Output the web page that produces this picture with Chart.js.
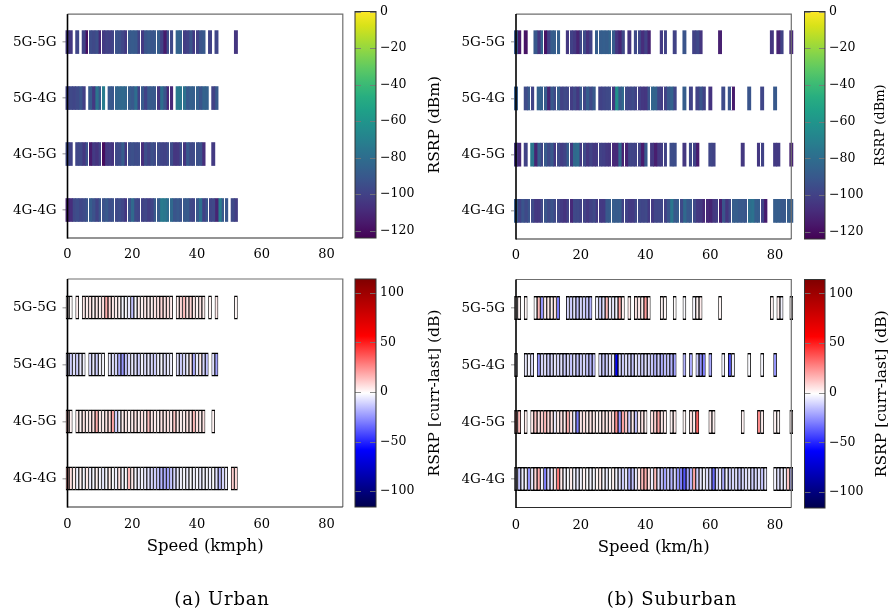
<!DOCTYPE html>
<html>
<head>
<meta charset="utf-8">
<script src="https://cdn.jsdelivr.net/npm/chart.js@4.4.1/dist/chart.umd.min.js"></script>
<style>
  html, body { margin: 0; padding: 0; background: #fff; }
  #page { position: relative; width: 892px; height: 615px; overflow: hidden; background: #fff; }
  #page canvas { position: absolute; left: 0; top: 0; }
  .caption { position: absolute; font-family: 'DejaVu Serif', serif; font-size: 18px; color: #000;
             letter-spacing: 0.8px; transform: translateX(-50%); white-space: nowrap; line-height: 22px; }
</style>
</head>
<body>
<div id="page">
  <canvas id="urbanTop" width="892" height="615"></canvas>
  <canvas id="urbanTopBar" width="892" height="615"></canvas>
  <canvas id="suburbTop" width="892" height="615"></canvas>
  <canvas id="suburbTopBar" width="892" height="615"></canvas>
  <canvas id="urbanBottom" width="892" height="615"></canvas>
  <canvas id="urbanBottomBar" width="892" height="615"></canvas>
  <canvas id="suburbBottom" width="892" height="615"></canvas>
  <canvas id="suburbBottomBar" width="892" height="615"></canvas>
  <div class="caption" style="left:222px; top:588px;">(a) Urban</div>
  <div class="caption" style="left:672px; top:588px;">(b) Suburban</div>
</div>
<script>
// Handover types, one row each (top to bottom)
const handoverTypes = ['5G-5G', '5G-4G', '4G-5G', '4G-4G'];
const speedTicks = [0, 20, 40, 60, 80];
const rsrpTicks = [0, -20, -40, -60, -80, -100, -120];
const deltaTicks = [100, 50, 0, -50, -100];
const rsrpRange = [-124, 0];
const deltaRange = [-116, 114];
const speedMax = 85;

// Values are listed per 1 km/h speed bin, starting at 0; empty bins are "_".
const _ = null;

// Mean RSRP (dBm) per speed bin, urban
const urbanRsrp55 = [-104,-104,_,-98,_,-100,-119,-95,-97,-94, -110,-103,-100,-101,-99,-93,-94,-98,-104,-90,
  -89,-90,-100,-103,-92,-90,-91,-90,-88,-100, -115,-95,-97,_,-85,-86,-102,-100,-92,-103,
  -100,-92,-90,_,-100,_,-98,_,_,_, _,_,-105];
const urbanRsrp54 = [-100,-97,-98,-96,-92,-101,_,-90,-104,-76, -90,-72,_,-90,-91,-84,-83,-82,-84,-88,
  -90,-80,-100,-90,-100,-89,-90,-90,-105,-80, -92,-110,-110,_,-74,-75,-78,-90,-86,-87,
  -86,-92,-85,-86,_,-100,-90];
const urbanRsrp45 = [-97,-100,_,-98,-97,-104,-93,-115,-103,-106, -100,-120,-104,-103,-106,-97,-96,-88,-104,-95,
  -94,-96,-95,-108,-95,-100,-94,-97,-96,-99, -100,-96,-95,-105,-104,-95,-105,-90,-97,-96,
  -94,-93,-108,_,_,-103];
const urbanRsrp44 = [-112,-108,-97,-95,-98,-96,-92,-88,-93,-100, -92,-93,-90,-95,-93,-97,-95,-98,-105,-93,
  -82,-97,-98,-100,-98,-102,-99,-90,-88,-73, -75,-80,-82,-92,-90,-93,-90,-89,-97,-98,
  -90,-78,-100,-92,-98,-97,-112,-72,-90,-91, _,-97,-102];

// Mean RSRP (dBm) per speed bin, suburban
const suburbRsrp55 = [-90,-115,_,-118,_,_,-90,-105,-85,-118, -100,-88,-88,-87,_,_,-104,-100,-103,-112,
  -97,-96,-107,-100,_,-88,-88,-87,-88,-84, -89,-105,-112,-97,_,-106,_,-97,-98,-108,
  -100,-112,_,_,_,-103,-100,_,_,-100, _,_,-92,_,_,-100,-97,-105,_,_,
  _,_,_,-113,_,_,_,_,_,_, _,_,_,_,_,_,_,_,_,-105, _,-112,-100,_,_,-110];
const suburbRsrp54 = [-88,_,_,-96,-90,-99,_,-86,-88,-89, -112,-90,-97,-88,-100,-97,-98,-102,-97,-104,
  -90,-98,-88,-97,-90,_,-100,-98,-97,-96, -104,-62,-90,-82,-97,-98,-96,-100,-101,-104,
  -105,-92,-84,-85,-98,-102,-100,-90,-85,-98, _,_,-88,_,-100,_,-100,-92,-100,_,
  -106,_,_,_,-96,_,-92,-115,_,_, _,_,-92,_,_,_,-98,_,_,_, -90];
const suburbRsrp45 = [-104,-110,_,-100,_,-75,-112,-88,-98,-90, -97,-90,-104,-97,-102,-99,-88,-104,-82,-80,
  -103,-97,-105,-100,-104,-103,-100,-101,-104,-105, -110,-110,-82,-112,-112,-98,-99,-100,-100,-115,
  -90,_,-104,-114,-104,-102,-100,_,-95,-95, _,_,-104,_,-97,-100,-115,_,_,_,
  -98,-100,_,_,_,_,_,_,_,_, -104,_,_,_,_,-104,-100,_,_,_, -103,-103,_,_,_,-112];
const suburbRsrp44 = [-88,-100,-92,-97,-92,-97,-104,-104,-97,-92, -97,-92,-97,-98,-103,-106,-100,-110,-97,-97,
  -100,-100,-104,-100,-97,-103,-103,-103,-90,-88, -88,-89,-88,-100,-100,-103,-103,-97,-97,-98,
  -97,-103,-103,-98,-98,-98,-100,-92,-75,-90, -88,-97,-82,-90,-90,-97,-104,-104,-110,-110,
  -112,-104,-102,-114,-92,-105,-97,-88,-88,-90, -90,-92,-80,-78,-88,-88,-100,-115,_,_,
  -88,-88,-90,-90,-88,-88];

// RSRP change, current minus last cell (dB), urban
const urbanDelta55 = [2,0,_,3,_,4,3,5,2,4, 3,6,18,8,4,3,2,-3,-2,-5, -15,-2,3,2,4,3,2,5,6,8,
  5,7,3,_,3,8,14,6,9,4, 2,5,3,_,2,_,4,_,_,_, _,_,1];
const urbanDelta54 = [-10,-12,-8,-12,-6,-4,_,-10,-6,-12, -4,-3,_,-5,-8,-10,-20,-25,-15,-10,
  -6,-8,-12,-4,-8,-6,-10,-12,-5,-3, -8,-6,-4,_,-8,-12,-10,-5,4,-20, -6,3,-10,-15,_,-8,-22];
const urbanDelta45 = [12,2,_,3,2,5,3,4,6,18, 4,3,5,7,20,-12,-5,3,4,2, 3,5,2,6,3,14,4,3,2,5,
  4,6,3,12,4,2,3,5,4,15, 6,3,5,_,_,2];
const urbanDelta44 = [18,6,3,-4,2,-3,4,-5,-3,2, -4,-6,-3,3,-2,-4,5,-3,-2,15, 4,-3,-5,-4,-6,-8,-10,-12,-15,-18,
  -20,-22,-15,-10,-6,-4,-3,-5,-2,-4, -3,-6,-4,-3,-5,-2,-8,-18,-10,-4, _,10,8];

// RSRP change, current minus last cell (dB), suburban
const suburbDelta55 = [3,2,_,1,_,_,-2,15,-25,3, 4,2,5,-30,_,_,-10,-12,-8,-15, -10,-12,-14,-18,_,-5,-12,-8,15,-5,
  -6,-4,20,2,_,3,_,5,4,3, 22,3,_,_,_,2,1,_,_,0, _,_,-2,_,_,-3,2,3,_,_,
  _,_,_,1,_,_,_,_,_,_, _,_,_,_,_,_,_,_,_,2, _,3,-4,_,_,1];
const suburbDelta54 = [-5,_,_,-6,-4,-8,_,-25,-10,-8, -12,-10,-6,-10,-8,-12,-10,-14,-8,-15,
  -12,-10,-14,-18,-15,_,-10,-14,-12,-8, -5,-60,-10,-12,-8,-10,-14,-6,-10,-12,
  -8,-10,-14,-18,-12,-20,-16,-14,-18,-22, _,_,-18,_,-20,_,-12,-26,-30,_,
  -20,_,_,_,-4,_,-40,-5,_,_, _,_,-2,_,_,_,-3,_,_,_, -25];
const suburbDelta45 = [20,15,_,3,_,4,12,5,10,15, 8,6,-5,4,6,3,18,5,-6,-30, 4,6,3,5,4,2,3,5,4,6,
  8,25,-25,20,12,-12,4,-15,3,5, 2,_,6,10,20,4,3,_,2,4, _,_,1,_,5,3,35,_,_,_,
  3,2,_,_,_,_,_,_,_,_, 2,_,_,_,_,25,3,_,_,_, 2,1,_,_,_,3];
const suburbDelta44 = [-8,-15,-5,-3,-25,-6,8,18,-4,-30, -10,-5,6,30,4,-3,-2,3,-4,-6,
  -3,2,-2,-4,-3,2,4,-3,-5,-2, 2,-4,-8,-12,-6,-20,-15,-6,4,15,
  18,6,-5,14,-8,-15,-22,-12,-18,-10, -25,-30,-40,-22,-18,20,-12,-6,-4,-8,
  -12,-35,-10,-6,-20,-4,-12,-10,-8,-14, -10,-8,-6,-12,-10,-8,-14,-6,_,_,
  -4,-8,-6,-4,12,-20];

const SERIF = "'DejaVu Serif', 'Liberation Serif', serif";
const PAGE_W = 892, PAGE_H = 615;

// ---- colour maps -------------------------------------------------------
const VIRIDIS = ['#440154','#48186a','#472d7b','#424086','#3b528b','#33638d','#2c728e','#26828e',
  '#21918c','#1fa088','#28ae80','#3fbc73','#5ec962','#84d44b','#addc30','#d8e219','#fde725']
  .map(h => [parseInt(h.slice(1,3),16), parseInt(h.slice(3,5),16), parseInt(h.slice(5,7),16)]);
const SEISMIC = [[0,0,76.5],[0,0,255],[255,255,255],[255,0,0],[127.5,0,0]];

function sampleStops(stops, t) {
  t = Math.min(1, Math.max(0, t));
  const pos = t * (stops.length - 1);
  const k = Math.min(stops.length - 2, Math.floor(pos));
  const f = pos - k;
  const a = stops[k], b = stops[k + 1];
  const c = [0,1,2].map(q => Math.round(a[q] + (b[q] - a[q]) * f));
  return `rgb(${c[0]},${c[1]},${c[2]})`;
}
const viridis = (v, r) => sampleStops(VIRIDIS, (v - r[0]) / (r[1] - r[0]));
const seismic = (v, r) => sampleStops(SEISMIC, (v - r[0]) / (r[1] - r[0]));

const minusSign = v => (v < 0 ? '\u2212' + Math.abs(v) : String(v));

// ---- plugins -----------------------------------------------------------
// Axes frame: black left spine, dark bottom spine, grey top/right.
const framePlugin = {
  id: 'panelFrame',
  afterDatasetsDraw(chart) {
    const { ctx, chartArea: a } = chart;
    ctx.save();
    ctx.lineWidth = 1.2;
    ctx.strokeStyle = '#6f6f6f';
    ctx.beginPath();
    ctx.moveTo(a.left, a.top); ctx.lineTo(a.right, a.top); ctx.lineTo(a.right, a.bottom);
    ctx.stroke();
    ctx.strokeStyle = '#2a2a2a';
    ctx.beginPath(); ctx.moveTo(a.left, a.bottom); ctx.lineTo(a.right, a.bottom); ctx.stroke();
    ctx.strokeStyle = '#000';
    ctx.lineWidth = 1.6;
    ctx.beginPath(); ctx.moveTo(a.left, a.top); ctx.lineTo(a.left, a.bottom + 0.6); ctx.stroke();
    ctx.restore();
  }
};

// Thin white seams left by the raster grid between some neighbouring bins.
function seamPlugin(rows) {
  return {
    id: 'binSeams',
    afterDatasetsDraw(chart) {
      const xs = chart.scales.x;
      const { ctx } = chart;
      ctx.save();
      ctx.fillStyle = '#ffffff';
      for (let i = 1; i < chart.data.datasets.length; i++) {
        const px = xs.getPixelForValue(i - 0.5);
        const col = Math.floor(px);
        const f = px - col;
        if (f < 0.36 || f >= 0.595) continue;
        const meta = chart.getDatasetMeta(i);
        rows.forEach((row, j) => {
          if (row[i] == null || row[i - 1] == null) return;
          const el = meta.data[j];
          const { y, height } = el.getProps(['y', 'height'], true);
          ctx.fillRect(col, y - height / 2 - 0.5, 1, height + 1);
        });
      }
      ctx.restore();
    }
  };
}

// ---- heat-strip panel ----------------------------------------------------
function buildPanel(canvasId, area, rows, cmap, range, look) {
  const yAxisW = 64;
  const xAxisH = look.xTitle ? 50 : 30;
  const nBins = Math.max(...rows.map(r => r.length));
  const datasets = [];
  for (let i = 0; i < nBins; i++) {
    datasets.push({
      data: rows.map(r => (r[i] == null ? null : [i - 0.5, i + 0.5])),
      backgroundColor: rows.map(r => (r[i] == null ? 'rgba(0,0,0,0)' : cmap(r[i], range))),
      borderColor: look.edges ? '#000' : 'rgba(0,0,0,0)',
      borderWidth: look.edges ? { left: 0.8, right: 0.8, top: 1.3, bottom: 1.3 } : 0,
      borderSkipped: false,
      inflateAmount: look.edges ? 0.2 : 0.35,
      clip: false
    });
  }
  const plugins = [framePlugin];
  if (!look.edges) plugins.unshift(seamPlugin(rows));
  return new Chart(document.getElementById(canvasId), {
    type: 'bar',
    data: { labels: handoverTypes, datasets },
    plugins,
    options: {
      indexAxis: 'y',
      responsive: false,
      animation: false,
      events: [],
      layout: { padding: { left: area.left - yAxisW, right: PAGE_W - area.right,
                           top: area.top, bottom: PAGE_H - area.bottom - xAxisH } },
      datasets: { bar: { grouped: false, barPercentage: 0.41, categoryPercentage: 1 } },
      plugins: { legend: { display: false }, tooltip: { enabled: false } },
      scales: {
        x: {
          type: 'linear', min: 0, max: speedMax,
          afterBuildTicks: s => { s.ticks = speedTicks.map(v => ({ value: v })); },
          afterFit: s => { s.height = xAxisH; },
          grid: { display: false, drawTicks: false },
          border: { display: false },
          ticks: { padding: look.xTickPad, color: '#000', font: { family: SERIF, size: 13 } },
          title: { display: !!look.xTitle, text: look.xTitle || '', color: '#000',
                   font: { family: SERIF, size: 16.5 }, padding: { top: 0, bottom: 0 } }
        },
        y: {
          type: 'category', offset: true,
          afterFit: s => { s.width = yAxisW; },
          grid: { display: true, drawOnChartArea: false, drawTicks: true, tickLength: 5,
                  offset: false, color: '#b4b4b4', lineWidth: 1.5 },
          border: { display: false },
          ticks: { padding: 6, color: '#000', font: { family: SERIF, size: 13.5 } }
        }
      }
    }
  });
}

// ---- colour bar ----------------------------------------------------------
function buildColorbar(canvasId, area, range, ticks, cmap, label, look) {
  const axisW = 40;
  const cbPlugin = {
    id: 'colorbarDecor',
    afterDatasetsDraw(chart) {
      const { ctx, chartArea: a } = chart;
      const ys = chart.scales.y;
      ctx.save();
      ctx.strokeStyle = 'rgba(120,120,120,0.85)';
      ctx.lineWidth = 1.2;
      ys.ticks.forEach(t => {
        const y = Math.round(ys.getPixelForValue(t.value)) + 0.5;
        ctx.beginPath();
        ctx.moveTo(a.left, y); ctx.lineTo(a.left + 6, y);
        ctx.moveTo(a.right - 6, y); ctx.lineTo(a.right, y);
        ctx.stroke();
      });
      ctx.strokeStyle = '#333';
      ctx.lineWidth = 1;
      ctx.strokeRect(a.left, a.top, a.right - a.left, a.bottom - a.top);
      // axis label, reading bottom to top
      ctx.translate(look.labelX, (a.top + a.bottom) / 2);
      ctx.rotate(-Math.PI / 2);
      ctx.fillStyle = '#000';
      ctx.font = `${look.labelSize}px ${SERIF}`;
      ctx.textAlign = 'center';
      ctx.textBaseline = 'middle';
      ctx.fillText(label, 0, 0);
      ctx.restore();
    }
  };
  return new Chart(document.getElementById(canvasId), {
    type: 'bar',
    data: {
      labels: [label],
      datasets: [{
        data: [[range[0], range[1]]],
        borderWidth: 0,
        inflateAmount: 0,
        backgroundColor: c => {
          const ch = c.chart;
          if (!ch.chartArea) return 'rgba(0,0,0,0)';
          const ys = ch.scales.y;
          const g = ch.ctx.createLinearGradient(0, ys.getPixelForValue(range[0]), 0, ys.getPixelForValue(range[1]));
          for (let k = 0; k <= 48; k++) {
            g.addColorStop(k / 48, cmap(range[0] + (range[1] - range[0]) * k / 48, range));
          }
          return g;
        }
      }]
    },
    plugins: [cbPlugin],
    options: {
      responsive: false,
      animation: false,
      events: [],
      layout: { padding: { left: area.left, right: PAGE_W - area.right - axisW,
                           top: area.top, bottom: PAGE_H - area.bottom } },
      datasets: { bar: { barPercentage: 1, categoryPercentage: 1 } },
      plugins: { legend: { display: false }, tooltip: { enabled: false } },
      scales: {
        x: { display: false },
        y: {
          position: 'right', min: range[0], max: range[1],
          afterBuildTicks: s => { s.ticks = ticks.map(v => ({ value: v })); },
          afterFit: s => { s.width = axisW; },
          grid: { display: false, drawTicks: false },
          border: { display: false },
          ticks: { padding: 4, color: '#000', font: { family: SERIF, size: look.tickSize },
                   callback: v => minusSign(v) }
        }
      }
    }
  });
}

// ---- layout ----------------------------------------------------------------
const urbanTopArea = { left: 67.5, right: 342.8, top: 10, bottom: 238 };
const suburbTopArea = { left: 516, right: 791.3, top: 11.5, bottom: 239 };
const urbanBottomArea = { left: 67.5, right: 342.8, top: 279, bottom: 507 };
const suburbBottomArea = { left: 516, right: 791.3, top: 279.5, bottom: 507.5 };

buildPanel('urbanTop', urbanTopArea, [urbanRsrp55, urbanRsrp54, urbanRsrp45, urbanRsrp44],
  viridis, rsrpRange, { edges: false, xTickPad: 9 });
buildPanel('suburbTop', suburbTopArea, [suburbRsrp55, suburbRsrp54, suburbRsrp45, suburbRsrp44],
  viridis, rsrpRange, { edges: false, xTickPad: 9 });
buildPanel('urbanBottom', urbanBottomArea, [urbanDelta55, urbanDelta54, urbanDelta45, urbanDelta44],
  seismic, deltaRange, { edges: true, xTickPad: 10, xTitle: 'Speed (kmph)' });
buildPanel('suburbBottom', suburbBottomArea, [suburbDelta55, suburbDelta54, suburbDelta45, suburbDelta44],
  seismic, deltaRange, { edges: true, xTickPad: 10, xTitle: 'Speed (km/h)' });

buildColorbar('urbanTopBar', { left: 355, right: 376, top: 10, bottom: 238 },
  rsrpRange, rsrpTicks, viridis, 'RSRP (dBm)', { labelX: 435, labelSize: 15.5, tickSize: 12.5 });
buildColorbar('suburbTopBar', { left: 804.5, right: 825, top: 11.5, bottom: 239 },
  rsrpRange, rsrpTicks, viridis, 'RSRP (dBm)', { labelX: 880.5, labelSize: 13, tickSize: 12.5 });
buildColorbar('urbanBottomBar', { left: 355, right: 376, top: 279, bottom: 507 },
  deltaRange, deltaTicks, seismic, 'RSRP [curr-last] (dB)', { labelX: 435, labelSize: 15.5, tickSize: 12.5 });
buildColorbar('suburbBottomBar', { left: 804.5, right: 825, top: 279.5, bottom: 508 },
  deltaRange, deltaTicks, seismic, 'RSRP [curr-last] (dB)', { labelX: 882, labelSize: 15.5, tickSize: 12.5 });
</script>
</body>
</html>
